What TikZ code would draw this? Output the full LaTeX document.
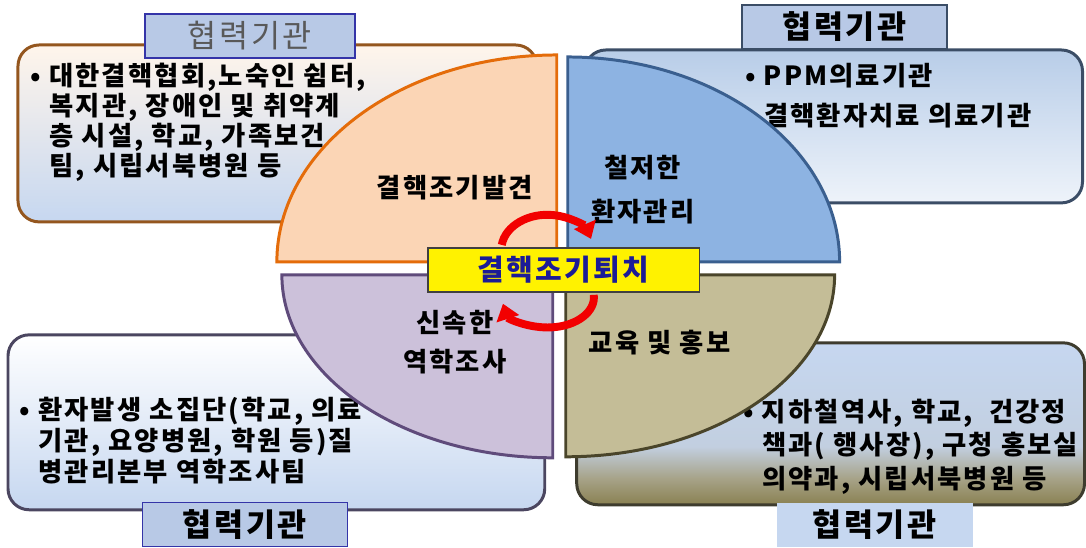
\documentclass[tikz,border=0pt]{standalone}
\usepackage{fontspec}
\setmainfont{Noto Sans CJK KR}[LetterSpace=8]
\usetikzlibrary{arrows.meta}
\definecolor{tlline}{HTML}{94561E}
\definecolor{trline}{HTML}{3B4D66}
\definecolor{blline}{HTML}{4B4660}
\definecolor{brline}{HTML}{3E3C2E}
\definecolor{peach}{HTML}{FBD5B5}
\definecolor{peachline}{HTML}{E46C0A}
\definecolor{skyfill}{HTML}{8DB3E2}
\definecolor{skyline}{HTML}{3A5F8F}
\definecolor{lilac}{HTML}{CCC1DA}
\definecolor{lilacline}{HTML}{5F4B7B}
\definecolor{khaki}{HTML}{C4BD97}
\definecolor{khakiline}{HTML}{4A452A}
\definecolor{paleblue}{HTML}{C6D7F0}
\definecolor{trtop}{HTML}{B8CDE8}
\definecolor{trlow}{HTML}{EEF3FA}
\definecolor{brlow}{HTML}{8A8152}
\definecolor{brmid}{HTML}{A6A287}
\definecolor{brhigh}{HTML}{C2CFE0}
\definecolor{tagfill}{HTML}{B8C9E6}
\definecolor{tagline}{HTML}{3434A8}
\definecolor{goalblue}{HTML}{1C1C96}
\pgfdeclareverticalshading{brshade}{100bp}{color(0bp)=(brlow); color(25bp)=(brlow); color(33bp)=(brmid); color(43bp)=(brhigh); color(75bp)=(paleblue); color(100bp)=(paleblue)}

\begin{document}
\begin{tikzpicture}[x=0.02cm, y=0.02cm,
    every node/.style={inner sep=0pt, font=\fontsize{15}{17}\selectfont\bfseries},
    partbox/.style={rounded corners=12pt, line width=1.7pt},
    quarter/.style={line width=1.7pt},
    tag/.style={draw=tagline, fill=tagfill, line width=0.8pt, minimum width=4.1cm, minimum height=0.88cm, font=\fontsize{18}{20}\selectfont\bfseries},
    loop/.style={red!95!black, line width=4.5pt, -{Triangle[length=9pt, width=13pt]}}]
    \fill[white] (0,0) rectangle (1086,547);

    \draw[partbox, draw=tlline, top color=orange!8, bottom color=paleblue] (18,325) rectangle (537,502);
    \draw[partbox, draw=trline, top color=trtop, bottom color=trlow] (585,344) rectangle (1083,497);
    \draw[partbox, draw=blline, top color=white, bottom color=paleblue] (8,37) rectangle (545,212);
    \path[partbox, draw=brline, shade, shading=brshade] (577,42) rectangle (1085,204);

    \node[anchor=north west, align=left] (tlText) at (49,484) {\llap{•\ }대한결핵협회,노숙인 쉼터,\\복지관, 장애인 및 취약계\\층 시설, 학교, 가족보건\\팀, 시립서북병원 등};
    \node[anchor=north west, align=left, font=\fontsize{15}{23}\selectfont\bfseries] (trText) at (764,484) {\llap{•\ }PPM의료기관\\결핵환자치료 의료기관};
    \node[anchor=north west, align=left, font=\fontsize{15}{17.5}\selectfont\bfseries] (blText) at (38,150) {\llap{•\ }환자발생 소집단(학교, 의료\\기관, 요양병원, 학원 등)질\\병관리본부 역학조사팀};
    \node[anchor=north west, align=left, font=\fontsize{15}{19}\selectfont\bfseries] (brText) at (762,148) {\llap{•\ }지하철역사, 학교,~ 건강정\\책과( 행사장), 구청 홍보실\\의약과, 시립서북병원 등};

    \node[tag, minimum width=4.2cm, text=black!65, font=\fontsize{18}{20}\selectfont] (tlTag) at (250,511) {협력기관};
    \node[tag, draw=trline] (trTag) at (845,520) {협력기관};
    \node[tag] (blTag) at (245,22) {협력기관};
    \node[tag, draw=none, fill=paleblue, minimum width=3.92cm] (brTag) at (875,22) {협력기관};

    \draw[quarter, draw=peachline, fill=peach] (557,285) -- (277,285) arc[start angle=180, end angle=90, x radius=280, y radius=207] -- cycle;
    \draw[quarter, draw=skyline, fill=skyfill] (568,285) -- (568,490) arc[start angle=90, end angle=0, x radius=272, y radius=205] -- cycle;
    \draw[quarter, draw=lilacline, fill=lilac] (553,272) -- (282,272) arc[start angle=180, end angle=270, x radius=271, y radius=183] -- cycle;
    \draw[quarter, draw=khakiline, fill=khaki] (566,272) -- (566,90) arc[start angle=270, end angle=360, x radius=269, y radius=182] -- cycle;

    \node (early) at (455,359) {결핵조기발견};
    \node (care1) at (643,379) {철저한};
    \node (care2) at (643,335) {환자관리};
    \node (field1) at (455,224) {신속한};
    \node (field2) at (455,185) {역학조사};
    \node (promo) at (660,204) {교육 및 홍보};

    \coordinate (loopT) at (502,302);
    \coordinate (loopB) at (594,252);
    \draw[loop] (loopT) arc[start angle=172, end angle=18, x radius=46, y radius=35];
    \draw[loop] (loopB) arc[start angle=5, end angle=-168, x radius=46, y radius=30];

    \node[draw=black!75, line width=0.8pt, fill=yellow, text=goalblue, minimum width=5.44cm, minimum height=0.88cm, font=\fontsize{16.5}{18}\selectfont\bfseries] (goal) at (564,277) {결핵조기퇴치};
\end{tikzpicture}
\end{document}
